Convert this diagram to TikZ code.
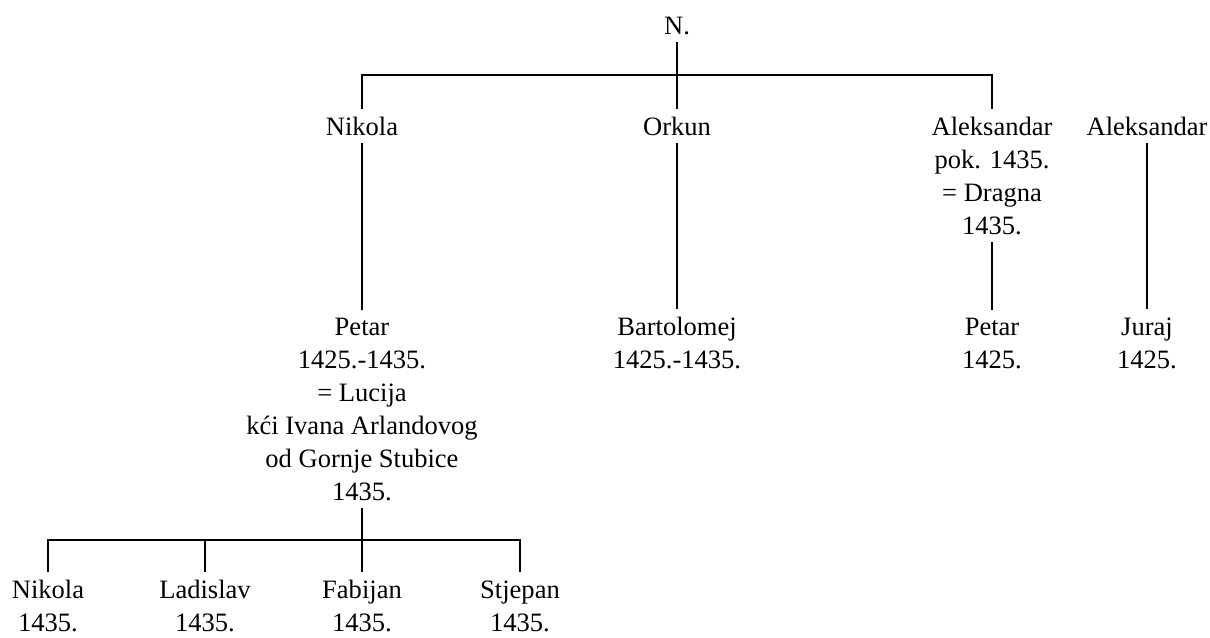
\documentclass[tikz,border=0pt]{standalone}
\usepackage{fontspec}
\setmainfont{Liberation Serif}

\begin{document}
\begin{tikzpicture}[x=0.75pt,y=-0.75pt,
		person/.style={anchor=base,align=center,inner sep=0pt,outer ysep=6pt,
			font=\fontsize{19.9}{24.75}\selectfont},
		link/.style={line width=1.1pt},
		bar/.style={line width=1.5pt}]
			\useasboundingbox (0,0) rectangle (1210,637);
			\coordinate (top) at (677,75);
			\coordinate (bottom) at (362,540);
			\node [person] (n) at (677,34) {N.};
			\node [person] (nikola) at (362,135) {Nikola};
			\node [person] (orkun) at (677,135) {Orkun};
			\node [person] (aleks) at (992,234) {Aleksandar\\pok. 1435.\\= Dragna\\1435.};
			\node [person] (aleksb) at (1147,135) {Aleksandar};
			\node [person] (petar) at (362,500) {Petar\\1425.-1435.\\= Lucija\\kći Ivana Arlandovog\\od Gornje Stubice\\1435.};
			\node [person] (bart) at (677,368) {Bartolomej\\1425.-1435.};
			\node [person] (petarb) at (992,368) {Petar\\1425.};
			\node [person] (juraj) at (1147,368) {Juraj\\1425.};
			\foreach \Nom/\X in {nikolab/48,ladislav/205,fabijan/362,stjepan/520}
				\coordinate (\Nom) at (\X,631);
			\node [person] (nikolab) at (nikolab) {Nikola\\1435.};
			\node [person] (ladislav) at (ladislav) {Ladislav\\1435.};
			\node [person] (fabijan) at (fabijan) {Fabijan\\1435.};
			\node [person] (stjepan) at (stjepan) {Stjepan\\1435.};
			\draw [bar] (nikola.north) |- (top) -| (aleks.north);
			\draw [link] (n.south) -- (orkun.north);
			\draw [link] (nikola.south) -- (petar.north);
			\draw [link] (orkun.south) -- (bart.north);
			\draw [link] (aleks.south) -- (petarb.north);
			\draw [link] (aleksb.south) -- (juraj.north);
			\draw [bar] (nikolab.north) |- (bottom) -| (stjepan.north);
			\draw [link] (petar.south) -- (fabijan.north);
			\draw [link] (ladislav.north) -- (ladislav.north |- bottom);
		\end{tikzpicture}
\end{document}
